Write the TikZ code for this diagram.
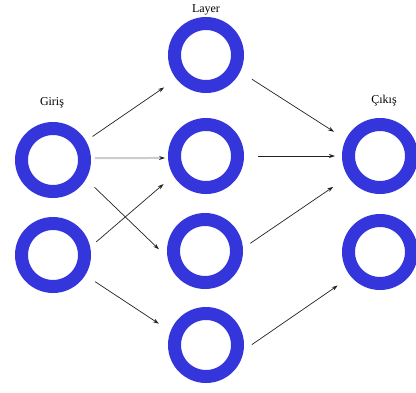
\documentclass[tikz,border=0pt]{standalone}
\usepackage{fontspec}
\setmainfont{Liberation Serif}
\usetikzlibrary{arrows.meta}
\definecolor{ring}{HTML}{3535DC}
\definecolor{edge}{HTML}{222222}
\tikzset{
  n/.style={circle, draw=ring, line width=13pt, minimum size=63pt, inner sep=0pt, outer sep=6.5pt, fill=white},
  a/.style={-{Stealth[length=6pt, width=4pt]}, draw=edge, line width=0.7pt},
  ag/.style={-{Stealth[length=6pt, width=4pt, color=edge]}, draw=gray!40, line width=2pt},
  lbl/.style={font=\fontsize{12}{14}\selectfont, inner sep=1pt},
}
\begin{document}
\begin{tikzpicture}[x=1pt, y=-1pt]
\useasboundingbox (0,0) rectangle (416,392);
% input
\node[n] (in1) at (53, 160) {};
\node[n] (in2) at (53, 255) {};
% hidden layer
\node[n] (l1) at (206, 55) {};
\node[n] (l2) at (206, 156) {};
\node[n] (l3) at (205, 251) {};
\node[n] (l4) at (206, 345) {};
% output
\node[n] (o1) at (380, 156) {};
\node[n] (o2) at (380, 252) {};

\node[lbl] (tin)  at (52, 103)  {Giriş};
\node[lbl] (tlay) at (206, 10)  {Layer};
\node[lbl] (tout) at (384, 101) {Çıkış};

\draw[a, shorten <=8pt, shorten >=15pt]  (in1.30)  -- (l1.219);
\draw[ag, shorten <=4pt, shorten >=3pt]  (in1.3)   -- (l2.183);
\draw[a, shorten <=12pt, shorten >=12pt] (in1.-30) -- (l3.190);
\draw[a, shorten <=8pt, shorten >=13pt]  (in2.12)  -- (l2.211);
\draw[a, shorten <=12pt, shorten >=14pt] (in2.-32) -- (l4.159);

\draw[a, shorten <=14pt, shorten >=14pt] (l1.-26)  -- (o1.154);
\draw[a, shorten <=14pt, shorten >=7pt]  (l2.east) -- (o1.west);
\draw[a, shorten <=9pt, shorten >=18pt]  (l3.4)    -- (o1.213);
\draw[a, shorten <=10pt, shorten >=16pt] (l4.-8)   -- (o2.220);
\end{tikzpicture}
\end{document}
